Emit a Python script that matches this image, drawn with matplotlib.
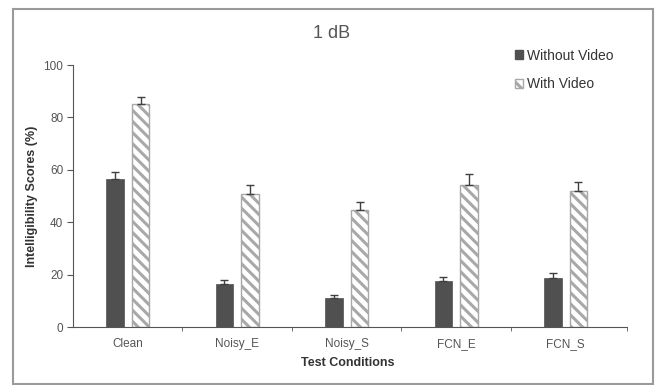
import numpy as np
import matplotlib
matplotlib.use('Agg')
from matplotlib import pyplot as plt
from matplotlib.patches import Rectangle, Patch

# data
conditions = ['Clean', 'Noisy_E', 'Noisy_S', 'FCN_E', 'FCN_S']
without_video = [56.5, 16.4, 11.1, 17.6, 18.7]
without_err = [2.7, 1.5, 1.1, 1.5, 1.9]
with_video = [85.1, 50.8, 44.7, 54.2, 51.9]
with_err = [2.7, 3.4, 3.0, 4.2, 3.4]

plt.rcParams['font.family'] = ['Liberation Sans', 'DejaVu Sans']
plt.rcParams['hatch.linewidth'] = 2.2

fig = plt.figure(figsize=(6.56, 3.85), dpi=100)
ax = fig.add_axes([73/656, 1-327/385, (627-73)/656, (327-65)/385])

x = np.arange(len(conditions))
w = 0.16
off = 0.117

dark = '#505050'
light_edge = '#a8a8a8'

ax.bar(x - off, without_video, w, color=dark, edgecolor=dark, linewidth=0.5, zorder=2)
ax.bar(x + off, with_video, w, color='white', edgecolor=light_edge, hatch='\\\\\\',
       linewidth=1.0, zorder=2)

# only the upper half of the error bars is shown
ax.errorbar(x - off, without_video, yerr=[np.zeros(5), without_err], fmt='none',
            ecolor='#404040', elinewidth=1.0, capsize=3, capthick=1.0, zorder=3)
ax.errorbar(x + off, with_video, yerr=[np.zeros(5), with_err], fmt='none',
            ecolor='#404040', elinewidth=1.0, capsize=3, capthick=1.0, zorder=3)

ax.set_xlim(-0.5, 4.56)
ax.set_ylim(0, 100)
ax.set_yticks([0, 20, 40, 60, 80, 100])

ax.set_xticks(x)
ax.set_xticklabels(conditions, fontsize=8.5, color='#555555')
ax.tick_params(axis='x', length=0, pad=8)
ax.set_xticks([0.5, 1.5, 2.5, 3.5, 4.56], minor=True)
ax.tick_params(axis='x', which='minor', length=3, color='#555555', direction='out')
ax.tick_params(axis='y', length=4, color='#555555', labelsize=8.5, labelcolor='#555555', pad=3)

for s in ['top', 'right']:
    ax.spines[s].set_visible(False)
ax.spines['left'].set_color('#555555')
ax.spines['bottom'].set_color('#555555')

fig.text(32/656, 1-196/385, 'Intelligibility Scores (%)', rotation=90, ha='center', va='center',
         fontsize=9, fontweight='bold', color='#333333')
fig.text(348/656, 1-363/385, 'Test Conditions', ha='center', va='center',
         fontsize=9, fontweight='bold', color='#333333')
fig.text(332/656, 1-33/385, '1 dB', ha='center', va='center', fontsize=13, color='#555555')

handles = [Patch(facecolor=dark, edgecolor=dark),
           Patch(facecolor='white', edgecolor=light_edge, hatch='\\')]
fig.legend(handles, ['Without Video', 'With Video'], loc='upper left',
           bbox_to_anchor=(502/656, 1-36/385), frameon=False,
           prop={'size': 10}, labelcolor='#333333',
           handlelength=0.6, handleheight=0.6, handletextpad=0.3, labelspacing=1.05)

fig.patches.append(Rectangle((13/656, 1-384/385), 640/656, 375/385, transform=fig.transFigure,
                             fill=False, edgecolor='#9a9a9a', linewidth=1.5))

fig.savefig('out.png', dpi=100)
